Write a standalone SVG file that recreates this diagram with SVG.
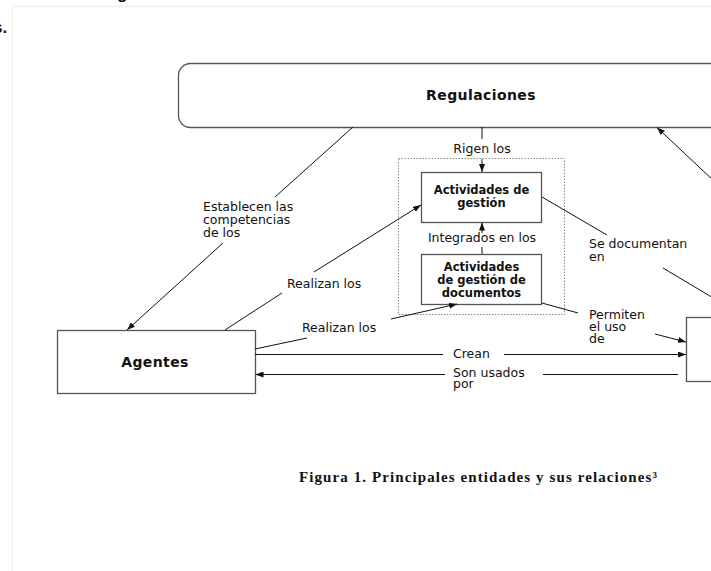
<svg xmlns="http://www.w3.org/2000/svg" width="711" height="571" viewBox="0 0 711 571">
<defs>
<style>
.box{fill:#fff;stroke:#555;stroke-width:1.3}
.grp{fill:none;stroke:#888;stroke-width:1;stroke-dasharray:1.5,1.5}
.ln{stroke:#111;stroke-width:1;fill:none}
.lbl{font-family:"DejaVu Sans",Verdana,sans-serif;font-size:12.5px;fill:#111}
.bt{font-family:"DejaVu Sans",Verdana,sans-serif;font-weight:bold;font-size:11.5px;fill:#111;text-anchor:middle}
.big{font-family:"DejaVu Sans",Verdana,sans-serif;font-weight:bold;font-size:14px;fill:#111;text-anchor:middle;letter-spacing:0.4px}
.cap{font-family:"Liberation Serif","Times New Roman",serif;font-weight:bold;font-size:15px;fill:#111}
.frag{font-family:"Liberation Sans",Arial,sans-serif;font-weight:bold;font-size:17px;fill:#111}
</style>
<marker id="ah" markerWidth="8" markerHeight="6" refX="8" refY="3" orient="auto" markerUnits="userSpaceOnUse">
<path d="M0,0 L8,3 L0,6 z" fill="#111"/>
</marker>
</defs>
<rect width="711" height="571" fill="#fff"/>
<g id="page">
<line x1="12.5" y1="6.5" x2="711" y2="6.5" stroke="#ececec" stroke-width="1"/>
<line x1="12.5" y1="6.5" x2="12.5" y2="571" stroke="#ececec" stroke-width="1"/>
<text class="frag" x="-7" y="33">s.</text>
<text class="frag" x="117" y="-1">g</text>
</g>
<g id="regulaciones">
<rect class="box" x="178.5" y="63.5" width="580" height="64" rx="12"/>
<text class="big" x="481" y="100">Regulaciones</text>
</g>
<g id="grupo-actividades">
<rect class="grp" x="398.5" y="158.5" width="166" height="156"/>
</g>
<g id="actividades-gestion">
<rect class="box" x="421.5" y="172.5" width="120" height="50"/>
<text class="bt" x="481.5" y="194">Actividades de</text>
<text class="bt" x="481.5" y="207">gestión</text>
</g>
<g id="actividades-documentos">
<rect class="box" x="421.5" y="254.5" width="120" height="50"/>
<text class="bt" x="481.5" y="271">Actividades</text>
<text class="bt" x="481.5" y="284">de gestión de</text>
<text class="bt" x="481.5" y="297">documentos</text>
</g>
<g id="agentes">
<rect class="box" x="57.5" y="330.5" width="198" height="63"/>
<text class="big" x="155" y="367">Agentes</text>
</g>
<g id="documentos">
<rect class="box" x="686.5" y="317.5" width="60" height="64"/>
</g>
<g id="connectors">
<line class="ln" x1="482" y1="127" x2="482" y2="139"/>
<line class="ln" x1="482" y1="159" x2="482" y2="172" marker-end="url(#ah)"/>
<text class="lbl" x="482" y="153" text-anchor="middle">Rigen los</text>

<line class="ln" x1="482" y1="254" x2="482" y2="247"/>
<line class="ln" x1="482" y1="233" x2="482" y2="222.5" marker-end="url(#ah)"/>
<text class="lbl" x="482" y="242" text-anchor="middle">Integrados en los</text>

<line class="ln" x1="353" y1="127" x2="275" y2="197"/>
<line class="ln" x1="223" y1="243" x2="127" y2="330" marker-end="url(#ah)"/>
<text class="lbl" x="203" y="211">Establecen las</text>
<text class="lbl" x="203" y="224">competencias</text>
<text class="lbl" x="203" y="237">de los</text>

<line class="ln" x1="225" y1="330" x2="282" y2="293"/>
<line class="ln" x1="314" y1="272" x2="421" y2="205" marker-end="url(#ah)"/>
<text class="lbl" x="287" y="288">Realizan los</text>

<line class="ln" x1="255" y1="349" x2="307" y2="338"/>
<line class="ln" x1="391" y1="319" x2="457" y2="304" marker-end="url(#ah)"/>
<text class="lbl" x="302" y="332">Realizan los</text>

<line class="ln" x1="542" y1="197" x2="607" y2="235"/>
<line class="ln" x1="663" y1="268" x2="745" y2="317"/>
<text class="lbl" x="589" y="248">Se documentan</text>
<text class="lbl" x="589" y="261">en</text>

<line class="ln" x1="542" y1="303" x2="578" y2="313"/>
<line class="ln" x1="655" y1="334" x2="686" y2="342" marker-end="url(#ah)"/>
<text class="lbl" x="589" y="319">Permiten</text>
<text class="lbl" x="589" y="331">el uso</text>
<text class="lbl" x="589" y="343">de</text>

<line class="ln" x1="255" y1="354.5" x2="443" y2="354.5"/>
<line class="ln" x1="504" y1="354.5" x2="686" y2="354.5" marker-end="url(#ah)"/>
<text class="lbl" x="453" y="358">Crean</text>

<line class="ln" x1="445" y1="374.5" x2="255.5" y2="374.5" marker-end="url(#ah)"/>
<line class="ln" x1="543" y1="374.5" x2="678" y2="374.5"/>
<text class="lbl" x="453" y="377">Son usados</text>
<text class="lbl" x="453" y="388">por</text>

<line class="ln" x1="732" y1="198" x2="657" y2="127.5" marker-end="url(#ah)"/>
</g>
<g id="caption">
<text class="cap" x="299" y="482" textLength="358" lengthAdjust="spacing">Figura 1. Principales entidades y sus relaciones³</text>
</g>
</svg>
